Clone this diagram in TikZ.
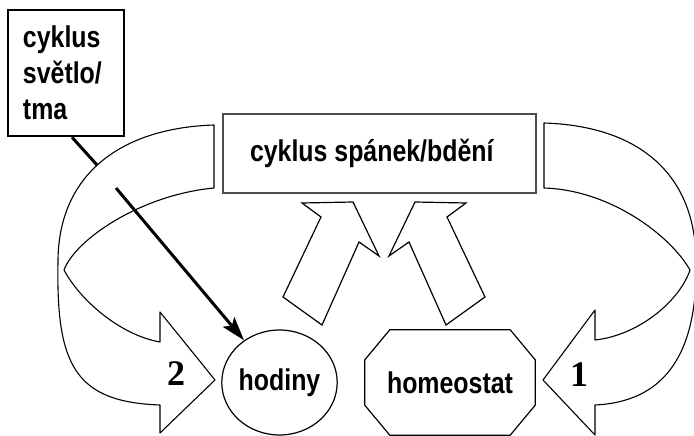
\documentclass[tikz,border=0pt]{standalone}
\usepackage{fontspec}
\usetikzlibrary{shapes.geometric,arrows.meta,calc}
\newfontfamily\narrowsans{Liberation Sans}[FakeStretch=0.83]
\newfontfamily\numserif{Liberation Serif}

\tikzset{
  band/.style={draw=black, fill=white, line width=1.1pt, line join=round},
  blockarrow/.style={draw=black, fill=white, line width=1.2pt, line join=miter},
  lbl/.style={font={\narrowsans\bfseries\fontsize{30}{36}\selectfont}, inner sep=0pt},
  num/.style={font={\numserif\bfseries\fontsize{36}{40}\selectfont}, inner sep=0pt},
  frame/.style={lbl, draw=black, fill=white, line width=2.5pt},
  mainbox/.style={lbl, draw=black!70, fill=white, line width=2pt},
  feed/.style={line width=3pt, draw=black}
}

\begin{document}
\begin{tikzpicture}[x=1pt, y=-1pt]
  \useasboundingbox (0,0) rectangle (694,436);

  % left loop arrow (2)
  \path[band]
    (214,125) .. controls (120,128) and (58,175) .. (58,262)
    .. controls (56,365) and (75,402) .. (160,405)
    -- (160,433) -- (215,380) -- (160,312) -- (160,342)
    .. controls (120,335) and (80,300) .. (64,270)
    .. controls (75,240) and (140,195) .. (214,188)
    -- cycle;

  % right loop arrow (1)
  \path[band]
    (544,123) .. controls (640,126) and (696,175) .. (696,262)
    .. controls (698,360) and (660,402) .. (595,405)
    -- (595,435) -- (543,380) -- (595,310) -- (595,340)
    .. controls (640,335) and (680,300) .. (690,270)
    .. controls (670,235) and (610,190) .. (544,188)
    -- cycle;

  % block arrows feeding the sleep/wake cycle
  \path[blockarrow]
    (283,297) -- (321,217) -- (302,203) -- (353,202) -- (379,256)
    -- (359,242) -- (322,325) -- cycle;
  \path[blockarrow]
    (485,297) -- (447,217) -- (466,203) -- (415,202) -- (389,256)
    -- (409,242) -- (446,325) -- cycle;

  % boxes
  \node[frame, minimum width=116pt, minimum height=126pt,
        text width=86pt, align=flush left, inner xsep=15pt] (light) at (66,73)
    {cyklus\\světlo/\\tma};
  \node[mainbox, minimum width=313pt, minimum height=79pt,
        text width=259pt, align=flush left, inner xsep=27pt] (sleep) at (379.5,153.5)
    {cyklus spánek/bdění};

  % clock and homeostat
  \node[lbl, ellipse, draw=black, line width=1.2pt, fill=white,
        minimum width=115pt, minimum height=105pt] (clock) at (279.5,382.5) {hodiny};
  \node[lbl, minimum width=170pt, minimum height=105pt] (homeo) at (450,382.5) {homeostat};
  \draw[line width=1.2pt, line join=round]
    ($(homeo.north west)+(25,0)$) -- ($(homeo.north east)+(-25,0)$)
    -- ($(homeo.north east)+(0,30)$) -- ($(homeo.south east)+(0,-30)$)
    -- ($(homeo.south east)+(-25,0)$) -- ($(homeo.south west)+(25,0)$)
    -- ($(homeo.south west)+(0,-30)$) -- ($(homeo.north west)+(0,30)$) -- cycle;

  % light/dark input to the clock, passing behind the loop
  \coordinate (gapA) at (97,165);
  \coordinate (gapB) at (116,188);
  \draw[feed] ($(light.south)+(6,0)$) -- (gapA);
  \draw[feed, -{Stealth[length=24pt, width=15pt, inset=5pt]}] (gapB) -- (clock);

  % loop numbers
  \node[num] (n2) at (176,374) {2};
  \node[num] (n1) at (579,375) {1};
\end{tikzpicture}
\end{document}
